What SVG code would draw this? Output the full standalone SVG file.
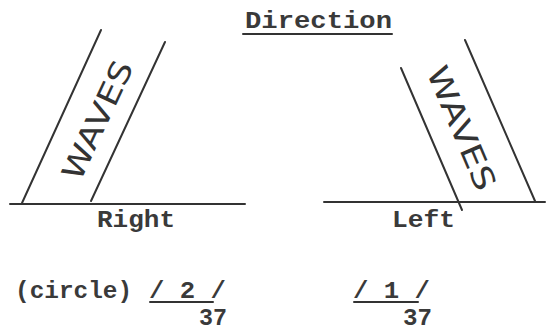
<svg xmlns="http://www.w3.org/2000/svg" width="551" height="332" viewBox="0 0 551 332">
<style>
.ln{stroke:#333;stroke-width:2;fill:none;stroke-linecap:round}
.tw{font-family:"Liberation Mono","DejaVu Sans Mono",monospace;font-size:24px;font-weight:bold;fill:#3a3a3a}
.hw{font-family:"DejaVu Sans","Liberation Sans",sans-serif;font-size:30px;fill:#333}
</style>
<rect width="551" height="332" fill="#fff"/>
<g id="title">
<text class="tw" x="245" y="28" textLength="147" lengthAdjust="spacingAndGlyphs">Direction</text>
<line class="ln" x1="243" y1="34" x2="392" y2="34"/>
</g>
<g id="right-figure">
<line class="ln" x1="10" y1="204" x2="245" y2="204"/>
<line class="ln" x1="22" y1="203" x2="101" y2="30"/>
<line class="ln" x1="91" y1="201" x2="165" y2="42"/>
<text class="hw" x="0" y="0" text-anchor="middle" textLength="128" lengthAdjust="spacingAndGlyphs" transform="translate(97,120) rotate(-65) translate(0,11)">WAVES</text>
<text class="tw" x="97" y="227" textLength="78" lengthAdjust="spacingAndGlyphs">Right</text>
</g>
<g id="left-figure">
<line class="ln" x1="324" y1="202" x2="545" y2="202"/>
<line class="ln" x1="401" y1="68" x2="462" y2="210"/>
<line class="ln" x1="465" y1="40" x2="535" y2="201"/>
<text class="hw" x="0" y="0" text-anchor="middle" textLength="132" lengthAdjust="spacingAndGlyphs" transform="translate(462,128) rotate(67) translate(0,11)">WAVES</text>
<text class="tw" x="392" y="227" textLength="63" lengthAdjust="spacingAndGlyphs">Left</text>
</g>
<g id="answers">
<text class="tw" x="15" y="298" textLength="117" lengthAdjust="spacingAndGlyphs">(circle)</text>
<text class="tw" x="149" y="298" textLength="77" lengthAdjust="spacingAndGlyphs">/ 2 /</text>
<line class="ln" x1="150" y1="302" x2="213" y2="302"/>
<text class="tw" x="199" y="325" textLength="28" lengthAdjust="spacingAndGlyphs">37</text>
<text class="tw" x="353" y="298" textLength="77" lengthAdjust="spacingAndGlyphs">/ 1 /</text>
<line class="ln" x1="354" y1="302" x2="418" y2="302"/>
<text class="tw" x="403" y="325" textLength="29" lengthAdjust="spacingAndGlyphs">37</text>
</g>
</svg>
